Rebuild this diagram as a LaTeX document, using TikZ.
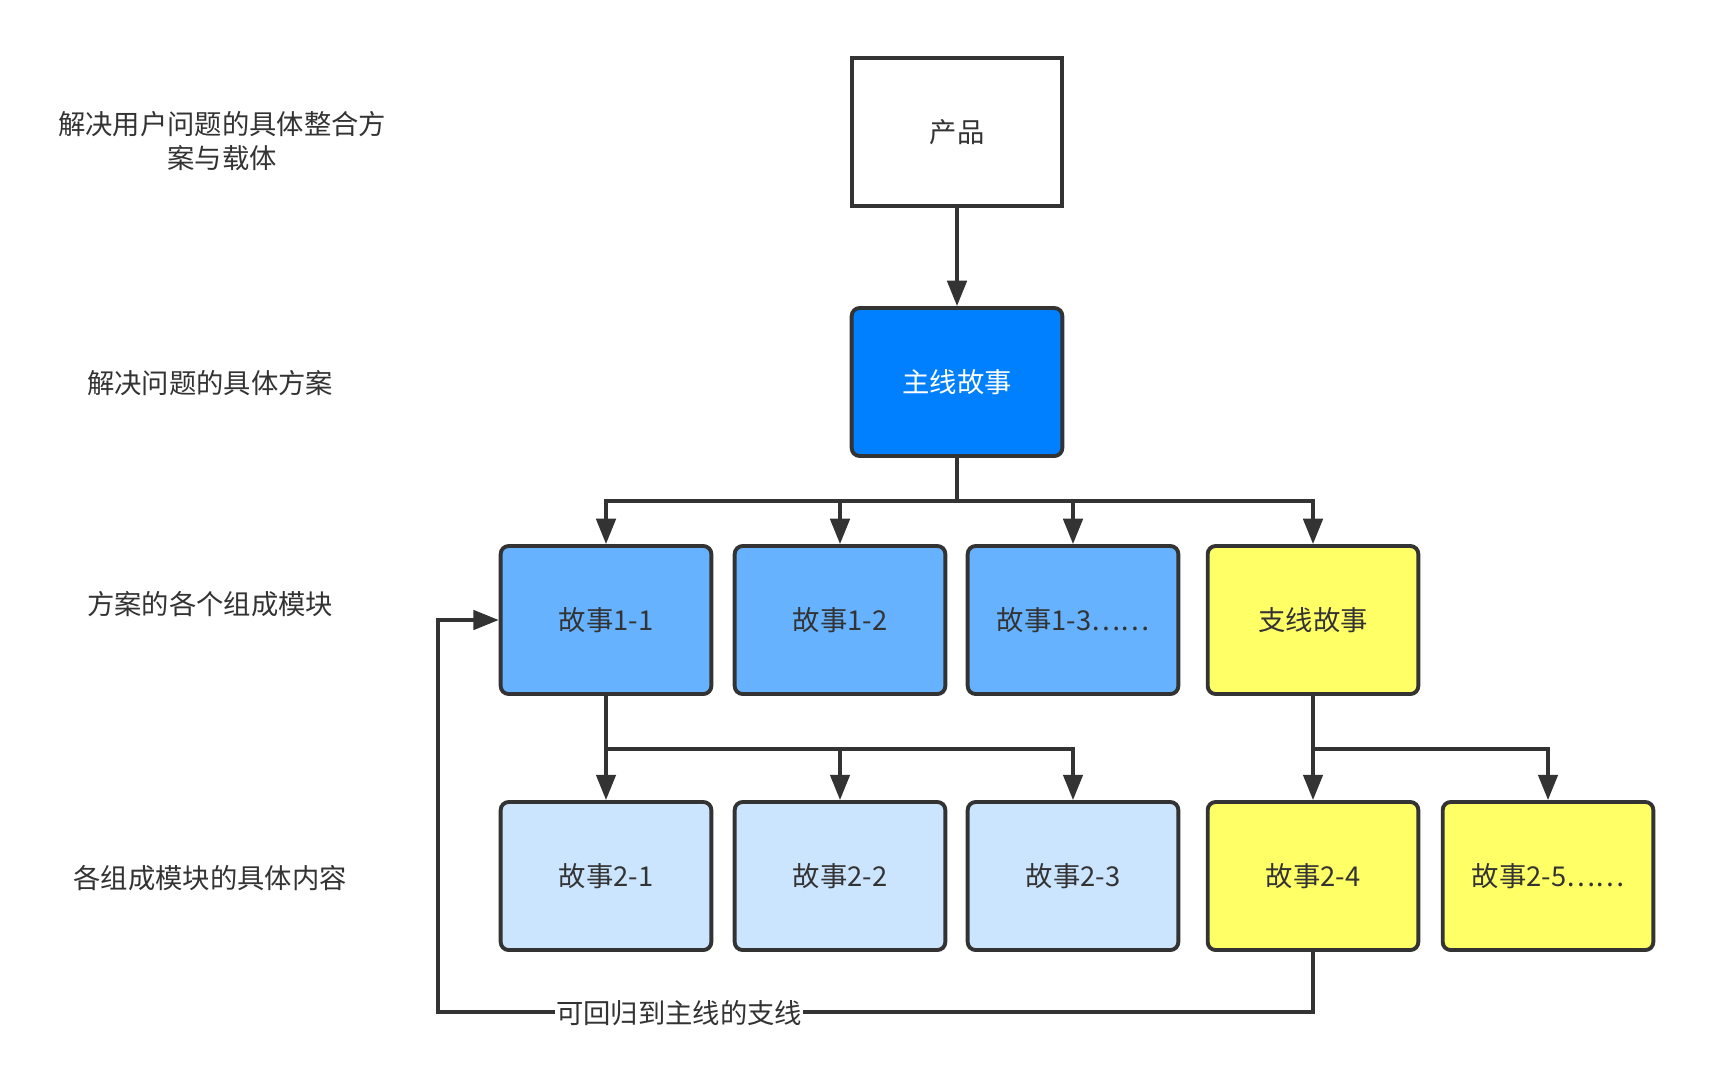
\documentclass[tikz,border=0pt]{standalone}
\usepackage{fontspec}
\setmainfont{Noto Sans CJK SC}
\usetikzlibrary{arrows.meta}
\definecolor{edgec}{HTML}{333333}
\definecolor{mainblue}{HTML}{007FFF}
\definecolor{midblue}{HTML}{66B2FF}
\definecolor{lightblue}{HTML}{CCE5FF}
\definecolor{yel}{HTML}{FFFF66}
\begin{document}
\begin{tikzpicture}[x=0.75pt,y=-0.75pt,
  boxbase/.style={draw=edgec, line width=2.9pt, minimum width=158pt, minimum height=111pt,
     font=\fontsize{20.5}{24}\selectfont, text=edgec, inner sep=0pt},
  rbox/.style={boxbase, rounded corners=6pt},
  lbl/.style={font=\fontsize{20.5}{25}\selectfont, text=edgec, align=center},
  conn/.style={draw=edgec, line width=2.8pt},
  arr/.style={conn, -{Triangle[length=19pt,width=14.5pt]}}]
\useasboundingbox (0,0) rectangle (1716,1083);
\fill[white] (0,0) rectangle (1716,1083);

\node[boxbase, fill=white] (p) at (957,132) {产品};
\node[rbox, fill=mainblue, text=white] (m) at (957,382) {主线故事};

\node[rbox, fill=midblue] (a1) at (606,620) {故事1-1};
\node[rbox, fill=midblue] (a2) at (840,620) {故事1-2};
\node[rbox, fill=midblue] (a3) at (1073,620) {故事1-3……};
\node[rbox, fill=yel] (a4) at (1313,620) {支线故事};

\node[rbox, fill=lightblue] (c1) at (606,876) {故事2-1};
\node[rbox, fill=lightblue] (c2) at (840,876) {故事2-2};
\node[rbox, fill=lightblue] (c3) at (1073,876) {故事2-3};
\node[rbox, fill=yel] (c4) at (1313,876) {故事2-4};
\node[rbox, fill=yel] (c5) at (1548,876) {故事2-5……};

\node[lbl] (l1) at (222,141) {解决用户问题的具体整合方\\案与载体};
\node[lbl] (l2) at (210,383) {解决问题的具体方案};
\node[lbl] (l3) at (210,604) {方案的各个组成模块};
\node[lbl] (l4) at (210,878) {各组成模块的具体内容};

\draw[arr] (p) -- (m);

\coordinate (b1) at (957,501);
\draw[conn] (m) -- (b1);
\draw[arr] (b1) -| (a1);
\draw[arr] (b1) -| (a2);
\draw[arr] (b1) -| (a3);
\draw[arr] (b1) -| (a4);

\coordinate (b2) at (606,749);
\draw[conn] (a1) -- (b2);
\draw[arr] (b2) -- (c1);
\draw[arr] (b2) -| (c2);
\draw[arr] (b2) -| (c3);

\coordinate (b3) at (1313,749);
\draw[conn] (a4) -- (b3);
\draw[arr] (b3) -- (c4);
\draw[arr] (b3) -| (c5);

\coordinate (f1) at (438,1012);
\draw[arr] (c4) |- (f1) |- (a1);
\node[lbl, fill=white, inner sep=1pt] (fl) at (679,1013) {可回归到主线的支线};
\end{tikzpicture}
\end{document}
